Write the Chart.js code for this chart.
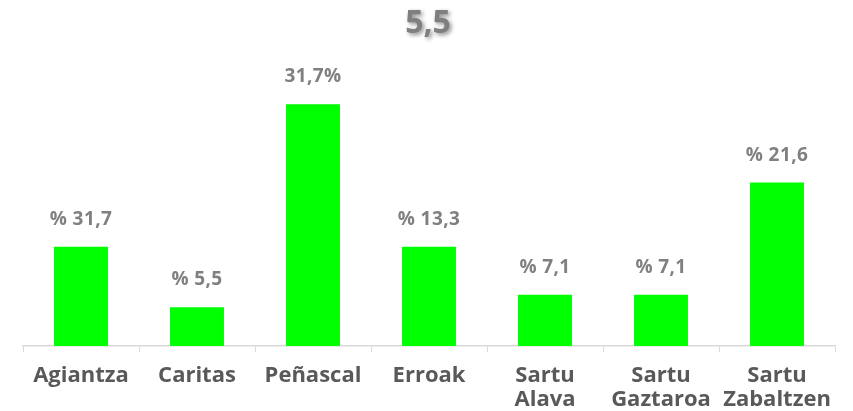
<!DOCTYPE html>
<html>
<head>
<meta charset="utf-8">
<script src="https://cdn.jsdelivr.net/npm/chart.js@4/dist/chart.umd.min.js"></script>
<style>
    body { margin: 0; background: #fff; }
    #wrap { width: 853px; height: 411px; }
</style>
</head>
<body>
<div id="wrap"><canvas id="chart"></canvas></div>
<script>
// Chart data
const categories = ['Agiantza', 'Caritas', 'Peñascal', 'Erroak', ['Sartu', 'Alava'], ['Sartu', 'Gaztaroa'], ['Sartu', 'Zabaltzen']];
const barValues = [13.3, 5.5, 31.7, 13.3, 7.1, 7.1, 21.6];
const barLabels = ['% 31,7', '% 5,5', '31,7%', '% 13,3', '% 7,1', '% 7,1', '% 21,6'];
const titleText = '5,5';

// Title with soft shadow
const titlePlugin = {
    id: 'shadowTitle',
    afterDraw(chart) {
        const ctx = chart.ctx;
        ctx.save();
        ctx.font = 'bold 32px "Open Sans"';
        ctx.fillStyle = '#7f7f7f';
        ctx.textAlign = 'center';
        ctx.textBaseline = 'alphabetic';
        ctx.shadowColor = 'rgba(0,0,0,0.45)';
        ctx.shadowBlur = 4;
        ctx.shadowOffsetX = 2;
        ctx.shadowOffsetY = 2;
        ctx.fillText(titleText, 428, 33);
        ctx.restore();
    }
};

// Text above each bar
const valueLabelPlugin = {
    id: 'valueLabels',
    afterDatasetsDraw(chart) {
        const ctx = chart.ctx;
        const meta = chart.getDatasetMeta(0);
        ctx.save();
        ctx.font = 'bold 19px "Open Sans"';
        ctx.letterSpacing = '0.4px';
        ctx.fillStyle = '#808080';
        ctx.textAlign = 'center';
        ctx.textBaseline = 'alphabetic';
        meta.data.forEach((bar, i) => {
            ctx.fillText(barLabels[i], bar.x, bar.y - 22);
        });
        ctx.restore();
    }
};

new Chart(document.getElementById('chart'), {
    type: 'bar',
    data: {
        labels: categories,
        datasets: [{
            data: barValues,
            backgroundColor: '#00ff00',
            borderWidth: 0,
            barPercentage: 0.465,
            categoryPercentage: 1
        }]
    },
    options: {
        responsive: true,
        maintainAspectRatio: false,
        animation: false,
        layout: { padding: { top: 50, left: 23, right: 18, bottom: 0 } },
        plugins: {
            legend: { display: false },
            tooltip: { enabled: false }
        },
        scales: {
            x: {
                afterFit(scale) { scale.height = 65; },
                grid: {
                    offset: true,
                    drawOnChartArea: false,
                    drawTicks: true,
                    tickLength: 6,
                    color: '#d9d9d9'
                },
                border: { color: '#d9d9d9', width: 1.5 },
                ticks: {
                    color: '#595959',
                    font: { family: 'Open Sans', weight: 'bold', size: 22, lineHeight: 1.07 },
                    maxRotation: 0,
                    autoSkip: false,
                    padding: 12
                }
            },
            y: {
                display: false,
                min: 0.5,
                max: 38.7
            }
        }
    },
    plugins: [titlePlugin, valueLabelPlugin]
});
</script>
</body>
</html>
